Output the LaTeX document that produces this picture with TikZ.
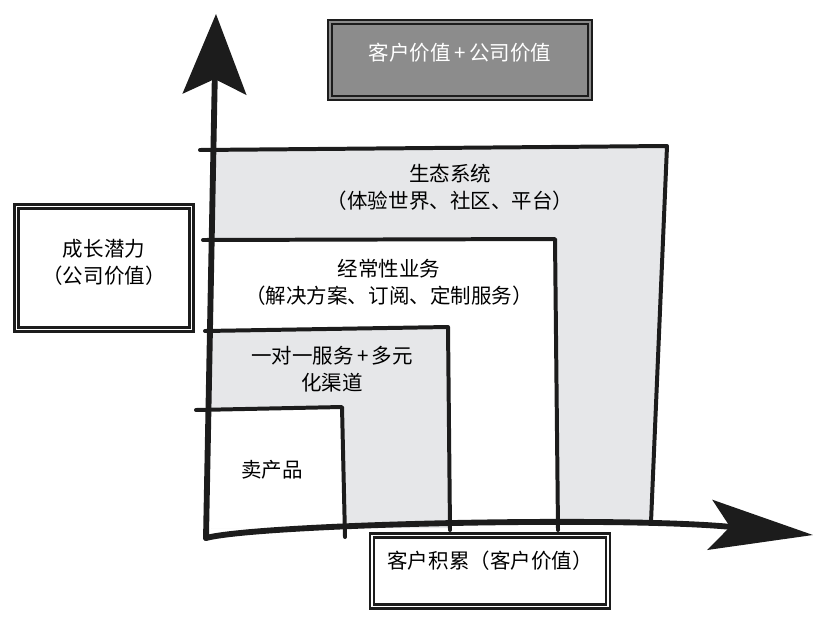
\documentclass[tikz,border=0pt]{standalone}
\usepackage{fontspec}
\setmainfont{Noto Sans CJK SC}
\usetikzlibrary{arrows.meta}
\definecolor{ink}{HTML}{1C1C1C}
\definecolor{panelgray}{HTML}{E6E7E9}
\definecolor{titlegray}{HTML}{8C8C8C}
\tikzset{
  axisline/.style={draw=ink, line width=5pt, line cap=round, line join=round},
  rim/.style={draw=ink, line width=3.4pt, line cap=round, line join=round},
  tag/.style={font=\fontsize{17.5}{23}\selectfont, align=center, inner sep=0pt},
  sketchbox/.style={draw=ink, line width=2.2pt, double=white, double distance=1.4pt,
    tag, inner sep=0pt}
}

\begin{document}
\begin{tikzpicture}[x=0.03cm, y=-0.03cm]
  \useasboundingbox (0,0) rectangle (825,619);
  % stacked L-shaped stages
  \fill[panelgray] (211,148) -- (667,146) -- (651,524) -- (211,528) -- cycle;
  \fill[white] (211,239) -- (555,240) -- (557,528) -- (211,528) -- cycle;
  \fill[panelgray] (211,329) -- (448,327) -- (450,528) -- (211,528) -- cycle;
  \fill[white] (211,409) -- (342,407) -- (345,528) -- (211,528) -- cycle;
  \draw[rim] (200,150) -- (667,146) -- (651,522);
  \draw[rim] (203,240) -- (555,239) -- (558,530);
  \draw[rim] (205,331) -- (448,327) -- (450,530);
  \draw[rim] (196,410) -- (342,407) -- (345,537);
  % axes
  \coordinate (origin) at (206,538);
  \coordinate (ytip) at (216,14);
  \coordinate (xtip) at (813,535);
  \draw[axisline, -{Stealth[length=2.4cm, width=1.9cm, inset=0.45cm]}] (origin) -- (ytip);
  \draw[axisline, -{Stealth[length=3.1cm, width=1.5cm, inset=0.6cm]}]
    (origin) .. controls (260,524) and (620,516) .. (xtip);
  % stage labels
  \node[tag] (eco) at (450,187) {生态系统\\（体验世界、社区、平台）};
  \node[tag] (recur) at (389,282) {经常性业务\\（解决方案、订阅、定制服务）};
  \node[tag] (onetoone) at (332,369) {一对一服务\,+\,多元\\化渠道};
  \node[tag] (product) at (272,470) {卖产品};
  % boxes
  \node[sketchbox, fill=titlegray, double=titlegray, text=white, text depth=0.5cm,
    minimum width=7.8cm, minimum height=2.28cm] (both) at (460,60)
    {客户价值\,+\,公司价值};
  \node[sketchbox, text depth=0.4cm, minimum width=5.25cm, minimum height=3.7cm]
    (growth) at (104,268) {成长潜力\hspace{0.35cm}\\（公司价值）\hspace{0.35cm}};
  \node[sketchbox, text depth=0.7cm, minimum width=7.08cm, minimum height=2.13cm]
    (accum) at (490,571) {客户积累（客户价值）};
\end{tikzpicture}
\end{document}
